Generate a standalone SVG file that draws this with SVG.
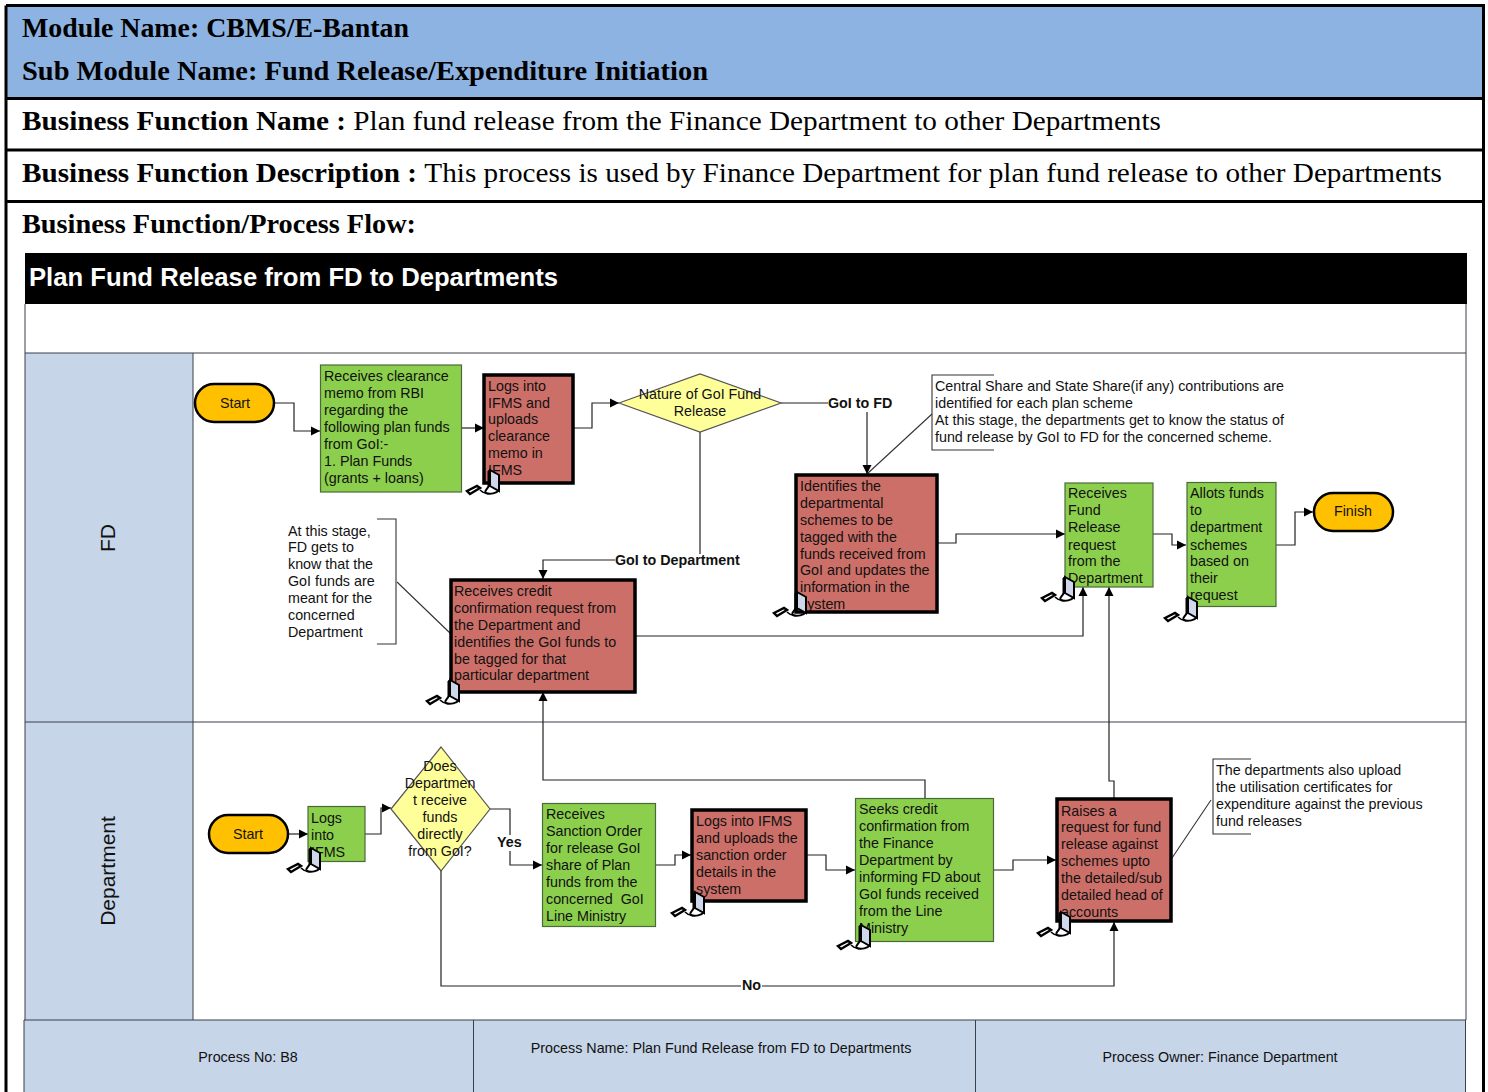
<svg xmlns="http://www.w3.org/2000/svg" xmlns:xlink="http://www.w3.org/1999/xlink" width="1488" height="1092" viewBox="0 0 1488 1092">
<style>
text{font-family:"Liberation Sans",Arial,sans-serif;font-size:14.3px;fill:#111}
.h{font-family:"Liberation Serif","Times New Roman",serif;font-size:28px;fill:#000}
.b{font-weight:bold}
.m{text-anchor:middle}
.lb{font-weight:bold;font-size:14.3px;fill:#111}
.g{fill:#8ccf4d;stroke:#4a6a3a;stroke-width:1.2}
.r{fill:#cc6f68;stroke:#000;stroke-width:3.5}
.t{fill:#ffc000;stroke:#000;stroke-width:2.5}
.d{fill:#ffff99;stroke:#555;stroke-width:1.2}
.c{fill:none;stroke:#222;stroke-width:1.2}
.n{fill:none;stroke:#333;stroke-width:1.1}
.line{fill:none;stroke:#000}
</style>
<defs>
<marker id="a" markerUnits="userSpaceOnUse" markerWidth="10" markerHeight="10" refX="9" refY="5" orient="auto"><path d="M0,0.5L9,5L0,9.5Z" fill="#000"/></marker>
<g id="pc">
<path d="M10,-18l9,5v16l-9,-5z" fill="#cfd8ea" stroke="#000" stroke-width="2"/>
<path d="M8,-17l2,-1v16l-2,1z" fill="#000" stroke="#000"/>
<path d="M-13,3l10,-5l3,2l-10,6z" fill="#fff" stroke="#000" stroke-width="2.4"/>
<path d="M9,-2c-3,4 -5,6 -3,7c4,2 11,0 13,-3" fill="none" stroke="#000" stroke-width="2"/>
<path d="M0,2c2,2 4,3 6,3" fill="none" stroke="#000" stroke-width="1.6"/>
</g>
</defs>
<rect width="1488" height="1092" fill="#fff"/>

<g id="page-header">
<rect x="7" y="7" width="1476" height="91" fill="#8db3e2"/>
<path class="line" stroke-width="3" d="M6,5.500H1483.500V1092M6,5.500V1092M6,98.500H1483.500M6,150H1483.500M6,201.500H1483.500"/>
<text class="h b" x="22" y="37" textLength="387" lengthAdjust="spacingAndGlyphs">Module Name: CBMS/E-Bantan</text>
<text class="h b" x="22" y="80" textLength="686" lengthAdjust="spacingAndGlyphs">Sub Module Name: Fund Release/Expenditure Initiation</text>
<text class="h" x="22" y="130" textLength="1139" lengthAdjust="spacingAndGlyphs"><tspan class="b">Business Function Name : </tspan>Plan fund release from the Finance Department to other Departments</text>
<text class="h" x="22" y="182" textLength="1420" lengthAdjust="spacingAndGlyphs"><tspan class="b">Business Function Description : </tspan>This process is used by Finance Department for plan fund release to other Departments</text>
<text class="h b" x="22" y="233" textLength="394" lengthAdjust="spacingAndGlyphs">Business Function/Process Flow:</text>
</g>

<g id="swimlanes">
<rect x="25" y="253" width="1442" height="51" fill="#000"/>
<text x="29" y="286" style="font-size:25px;font-weight:bold;fill:#fff" textLength="529" lengthAdjust="spacingAndGlyphs">Plan Fund Release from FD to Departments</text>
<rect x="25" y="353" width="168" height="667" fill="#c6d5e8"/>
<path d="M25,304V1020M1466,304V1020M25,353H1466M25,722H1466M193,353V1020" fill="none" stroke="#3a3f4a" stroke-width="1"/>
<text class="m" transform="translate(115,538) rotate(-90)" style="font-size:21px">FD</text>
<text class="m" transform="translate(115,871) rotate(-90)" style="font-size:21px">Department</text>
</g>

<g id="connectors">
<path class="c" marker-end="url(#a)" d="M274,403H294V431H320"/>
<path class="c" marker-end="url(#a)" d="M461,428H484"/>
<path class="c" marker-end="url(#a)" d="M574,428H592V403H619"/>
<path class="c" d="M781,403H828"/>
<path class="c" marker-end="url(#a)" d="M867,412V474"/>
<path class="c" d="M700,432V554"/>
<path class="c" marker-end="url(#a)" d="M615,560H543V579"/>
<path class="c" marker-end="url(#a)" d="M938,543H956V534H1065"/>
<path class="c" marker-end="url(#a)" d="M1153,534H1172V545H1186"/>
<path class="c" marker-end="url(#a)" d="M1276,545H1295V512H1313"/>
<path class="c" marker-end="url(#a)" d="M636,636H1083V587"/>
<path class="c" marker-end="url(#a)" d="M925,798V780H543V692"/>
<path class="c" marker-end="url(#a)" d="M1114,798V781H1109V587"/>
<path class="c" marker-end="url(#a)" d="M288,834H308"/>
<path class="c" marker-end="url(#a)" d="M365,834H381V808H391"/>
<path class="c" d="M490,809H510V835"/>
<path class="c" marker-end="url(#a)" d="M510,851V865H542"/>
<path class="c" marker-end="url(#a)" d="M656,865H675V855H691"/>
<path class="c" marker-end="url(#a)" d="M807,855H826V870H855"/>
<path class="c" marker-end="url(#a)" d="M994,870H1013V860H1056"/>
<path class="c" d="M441,871V986H741"/>
<path class="c" marker-end="url(#a)" d="M762,986H1114V922"/>
<path class="n" d="M932,414L867,474M397,582L451,634M1211,800L1172,858"/>
<text class="lb" x="828" y="408">GoI to FD</text>
<text class="lb" x="615" y="565">GoI to Department</text>
<text class="lb" x="497" y="847">Yes</text>
<text class="lb" x="742" y="990">No</text>
</g>

<g id="start-fd"><rect class="t" x="195" y="384" width="79" height="38" rx="19"/><text class="m" x="235" y="408">Start</text></g>
<g id="receive-memo"><rect class="g" x="320.500" y="365" width="141" height="127"/>
<text x="324"><tspan x="324" y="381">Receives clearance</tspan><tspan x="324" y="398">memo from RBI</tspan><tspan x="324" y="415">regarding the</tspan><tspan x="324" y="432">following plan funds</tspan><tspan x="324" y="449">from GoI:-</tspan><tspan x="324" y="466">1. Plan Funds</tspan><tspan x="324" y="483">(grants + loans)</tspan></text></g>
<g id="logs-ifms"><rect class="r" x="484" y="375" width="89" height="108"/>
<text><tspan x="488" y="391">Logs into</tspan><tspan x="488" y="408">IFMS and</tspan><tspan x="488" y="424">uploads</tspan><tspan x="488" y="441">clearance</tspan><tspan x="488" y="458">memo in</tspan><tspan x="488" y="475">IFMS</tspan></text><use href="#pc" x="480" y="488"/></g>
<g id="nature-decision"><path class="d" d="M619,403L700,374L781,403L700,432Z"/>
<text class="m"><tspan x="700" y="399">Nature of GoI Fund</tspan><tspan x="700" y="416">Release</tspan></text></g>
<g id="note-central"><path class="n" d="M994,375H932V450H994"/>
<text><tspan x="935" y="391">Central Share and State Share(if any) contributions are</tspan><tspan x="935" y="408">identified for each plan scheme</tspan><tspan x="935" y="425">At this stage, the departments get to know the status of</tspan><tspan x="935" y="442">fund release by GoI to FD for the concerned scheme.</tspan></text></g>
<g id="identify-schemes"><rect class="r" x="796" y="475" width="141" height="137"/>
<text><tspan x="800" y="491">Identifies the</tspan><tspan x="800" y="508">departmental</tspan><tspan x="800" y="525">schemes to be</tspan><tspan x="800" y="542">tagged with the</tspan><tspan x="800" y="559">funds received from</tspan><tspan x="800" y="575">GoI and updates the</tspan><tspan x="800" y="592">information in the</tspan><tspan x="800" y="609">system</tspan></text><use href="#pc" x="787" y="610"/></g>
<g id="receive-request"><rect class="g" x="1065" y="483" width="88" height="104"/>
<text><tspan x="1068" y="498">Receives</tspan><tspan x="1068" y="515">Fund</tspan><tspan x="1068" y="532">Release</tspan><tspan x="1068" y="550">request</tspan><tspan x="1068" y="566">from the</tspan><tspan x="1068" y="583">Department</tspan></text><use href="#pc" x="1055" y="595"/></g>
<g id="allot-funds"><rect class="g" x="1187" y="482.500" width="89" height="124"/>
<text><tspan x="1190" y="498">Allots funds</tspan><tspan x="1190" y="515">to</tspan><tspan x="1190" y="532">department</tspan><tspan x="1190" y="550">schemes</tspan><tspan x="1190" y="566">based on</tspan><tspan x="1190" y="583">their</tspan><tspan x="1190" y="600">request</tspan></text><use href="#pc" x="1178" y="615"/></g>
<g id="finish"><rect class="t" x="1314" y="493" width="79" height="38" rx="19"/><text class="m" x="1353" y="516">Finish</text></g>
<g id="note-fd"><path class="n" d="M377,519H396V644H377"/>
<text><tspan x="288" y="536">At this stage,</tspan><tspan x="288" y="552">FD gets to</tspan><tspan x="288" y="569">know that the</tspan><tspan x="288" y="586">GoI funds are</tspan><tspan x="288" y="603">meant for the</tspan><tspan x="288" y="620">concerned</tspan><tspan x="288" y="637">Department</tspan></text></g>
<g id="receive-credit"><rect class="r" x="451" y="580" width="184" height="112"/>
<text><tspan x="454" y="596">Receives credit</tspan><tspan x="454" y="613">confirmation request from</tspan><tspan x="454" y="630">the Department and</tspan><tspan x="454" y="647">identifies the GoI funds to</tspan><tspan x="454" y="664">be tagged for that</tspan><tspan x="454" y="680">particular department</tspan></text><use href="#pc" x="440" y="698"/></g>

<g id="start-dept"><rect class="t" x="209" y="815" width="79" height="38" rx="19"/><text class="m" x="248" y="839">Start</text></g>
<g id="dept-logs"><rect class="g" x="308" y="806.500" width="57" height="55"/>
<text><tspan x="311" y="823">Logs</tspan><tspan x="311" y="840">into</tspan><tspan x="311" y="857">IFMS</tspan></text><use href="#pc" x="301" y="866"/></g>
<g id="dept-decision"><path class="d" d="M391,809L441,747L490,809L441,871Z"/>
<text class="m"><tspan x="440" y="771">Does</tspan><tspan x="440" y="788">Departmen</tspan><tspan x="440" y="805">t receive</tspan><tspan x="440" y="822">funds</tspan><tspan x="440" y="839">directly</tspan><tspan x="440" y="856">from GoI?</tspan></text></g>
<g id="receive-sanction"><rect class="g" x="542.500" y="803.500" width="113" height="123"/>
<text><tspan x="546" y="819">Receives</tspan><tspan x="546" y="836">Sanction Order</tspan><tspan x="546" y="853">for release GoI</tspan><tspan x="546" y="870">share of Plan</tspan><tspan x="546" y="887">funds from the</tspan><tspan x="546" y="904" xml:space="preserve">concerned  GoI</tspan><tspan x="546" y="921">Line Ministry</tspan></text></g>
<g id="upload-sanction"><rect class="r" x="692" y="810" width="114" height="91"/>
<text><tspan x="696" y="826">Logs into IFMS</tspan><tspan x="696" y="843">and uploads the</tspan><tspan x="696" y="860">sanction order</tspan><tspan x="696" y="877">details in the</tspan><tspan x="696" y="894">system</tspan></text><use href="#pc" x="685" y="910"/></g>
<g id="seek-confirmation"><rect class="g" x="855.500" y="798.500" width="138" height="143"/>
<text><tspan x="859" y="814">Seeks credit</tspan><tspan x="859" y="831">confirmation from</tspan><tspan x="859" y="848">the Finance</tspan><tspan x="859" y="865">Department by</tspan><tspan x="859" y="882">informing FD about</tspan><tspan x="859" y="899">GoI funds received</tspan><tspan x="859" y="916">from the Line</tspan><tspan x="859" y="933">Ministry</tspan></text><use href="#pc" x="851" y="943"/></g>
<g id="raise-request"><rect class="r" x="1057" y="799" width="114" height="122"/>
<text><tspan x="1061" y="816">Raises a</tspan><tspan x="1061" y="832">request for fund</tspan><tspan x="1061" y="849">release against</tspan><tspan x="1061" y="866">schemes upto</tspan><tspan x="1061" y="883">the detailed/sub</tspan><tspan x="1061" y="900">detailed head of</tspan><tspan x="1061" y="917">accounts</tspan></text><use href="#pc" x="1051" y="930"/></g>
<g id="note-dept"><path class="n" d="M1251,759H1213V834H1251"/>
<text><tspan x="1216" y="775">The departments also upload</tspan><tspan x="1216" y="792">the utilisation certificates for</tspan><tspan x="1216" y="809">expenditure against the previous</tspan><tspan x="1216" y="826">fund releases</tspan></text></g>

<g id="footer">
<rect x="24" y="1020" width="449" height="72" fill="#c6d5e8"/><rect x="474" y="1020" width="501" height="72" fill="#c6d5e8"/><rect x="976" y="1020" width="489" height="72" fill="#c6d5e8"/>
<path d="M24,1020H1466M24,1020V1092M473.500,1020V1092M975.500,1020V1092M1465.500,1020V1092" fill="none" stroke="#3a3f4a"/>
<text class="m" x="248" y="1062">Process No: B8</text>
<text class="m" x="721" y="1053">Process Name: Plan Fund Release from FD to Departments</text>
<text class="m" x="1220" y="1062">Process Owner: Finance Department</text>
</g>
</svg>
